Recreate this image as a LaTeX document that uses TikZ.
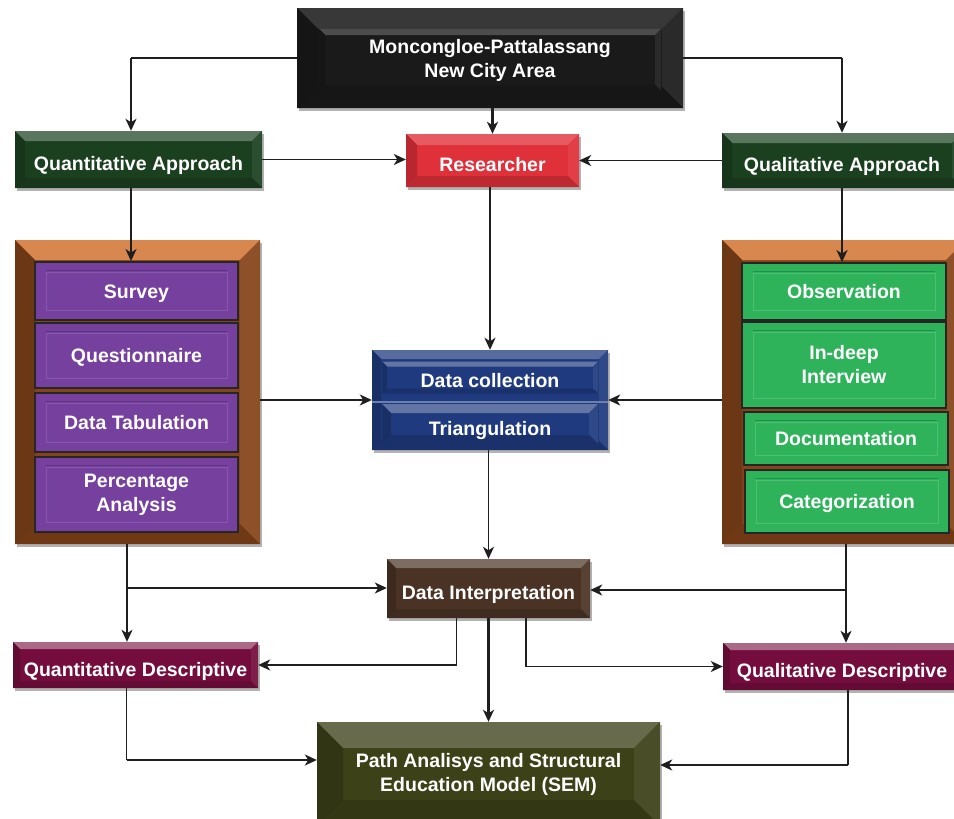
\documentclass[tikz,border=0pt]{standalone}
\usepackage{fontspec}
\setmainfont{Liberation Sans}
\usetikzlibrary{arrows.meta,shadows,calc}
\definecolor{cblack}{HTML}{1A1A1A}
\definecolor{cgreen}{HTML}{1B4020}
\definecolor{cred}{HTML}{E0303A}
\definecolor{cbrown}{HTML}{844319}
\definecolor{corange}{HTML}{D8884E}
\definecolor{cpurple}{HTML}{76409E}
\definecolor{clgreen}{HTML}{2EB35B}
\definecolor{cblue}{HTML}{1F3A7E}
\definecolor{cwood}{HTML}{4A3324}
\definecolor{cmaroon}{HTML}{740D3D}
\definecolor{colive}{HTML}{3D4118}
\tikzset{
  bev/.style n args={3}{fill=#1, draw=none, path picture={
    \path (path picture bounding box.north west) coordinate (ppA)
          (path picture bounding box.north east) coordinate (ppB)
          (path picture bounding box.south east) coordinate (ppC)
          (path picture bounding box.south west) coordinate (ppD);
    \path (ppA) ++(#2,#2) coordinate (ppa)
          (ppB) ++(-#2,#2) coordinate (ppb)
          (ppC) ++(-#2,-#2) coordinate (ppc)
          (ppD) ++(#2,-#2) coordinate (ppd);
    \fill[#3] (ppA) -- (ppB) -- (ppb) -- (ppa) -- cycle;
    \fill[#1!93!white] (ppB) -- (ppC) -- (ppc) -- (ppb) -- cycle;
    \fill[#1!85!black] (ppC) -- (ppD) -- (ppd) -- (ppc) -- cycle;
    \fill[#1!82!black] (ppD) -- (ppA) -- (ppa) -- (ppd) -- cycle;
  }},
  item/.style 2 args={fill=#1, draw=black!85, line width=1.8pt, path picture={
    \draw[#2, line width=0.9pt]
      ([shift={(11,10)}]path picture bounding box.north west) rectangle
      ([shift={(-11,-10)}]path picture bounding box.south east);
    \draw[#1!80!black, line width=1.2pt]
      ([shift={(11,8.8)}]path picture bounding box.north west) --
      ([shift={(-11,8.8)}]path picture bounding box.north east);
  }},
  lbl/.style={text=white, font=\fontsize{19.5}{24}\selectfont\bfseries,
    align=center, inner sep=0pt},
  low/.style={text height=26pt, text depth=4pt},
  mid/.style={text height=18pt, text depth=4pt},
  shd/.style={drop shadow={shadow xshift=2pt, shadow yshift=-3pt,
    opacity=.3, fill=black}},
  arr/.style={-{Stealth[length=12pt,width=11pt,inset=3.5pt]},
    line width=2.1pt, draw=black!88},
  arrthin/.style={arr, line width=1.3pt},
  lnthin/.style={line width=1.3pt, draw=black!88}
}
\begin{document}
\begin{tikzpicture}[x=1pt,y=-1pt]
\useasboundingbox (0,0) rectangle (954,819);
\fill[white] (0,0) rectangle (954,819);

% top
\node[shd, bev={cblack}{21}{black!78!white}, minimum width=386pt, minimum height=100pt] (top) at (490,58) {};
\node[bev={cblack}{6}{black!70!white}, minimum width=342pt, minimum height=62pt, lbl] (topin) at (490,60)
  {Moncongloe-Pattalassang\\New City Area};

% approaches and researcher
\node[shd, bev={cgreen}{10}{cgreen!72!white}, minimum width=247pt, minimum height=57pt, lbl, low] (qa) at (138.5,159.5) {Quantitative Approach};
\node[shd, bev={cred}{11}{cred!80!white}, minimum width=173pt, minimum height=53pt, lbl, low] (res) at (492.5,160.5) {Researcher};
\node[shd, bev={cgreen}{10}{cgreen!72!white}, minimum width=240pt, minimum height=55pt, lbl, low] (qua) at (842,160.5) {Qualitative Approach};

% frames
\node[shd, bev={cbrown}{20}{corange}, minimum width=245pt, minimum height=304pt] (lf) at (137.5,392) {};
\node[shd, bev={cbrown}{20}{corange}, minimum width=244pt, minimum height=304pt] (rf) at (844,392) {};

% purple items
\node[item={cpurple}{cpurple!88!white}, minimum width=203pt, minimum height=58pt, lbl, mid] (sv) at (136.5,291) {Survey};
\node[item={cpurple}{cpurple!88!white}, minimum width=203pt, minimum height=65pt, lbl, mid] (qn) at (136.5,355.5) {Questionnaire};
\node[item={cpurple}{cpurple!88!white}, minimum width=203pt, minimum height=59pt, lbl, mid] (dt) at (136.5,422.5) {Data Tabulation};
\node[item={cpurple}{cpurple!88!white}, minimum width=203pt, minimum height=75pt, lbl] (pa) at (136.5,494.5) {Percentage\\Analysis};

% green items
\node[item={clgreen}{clgreen!85!white}, minimum width=204pt, minimum height=57pt, lbl, mid] (ob) at (844,291.5) {Observation};
\node[item={clgreen}{clgreen!85!white}, minimum width=204pt, minimum height=86pt, lbl] (iv) at (844,365) {In-deep\\Interview};
\node[item={clgreen}{clgreen!85!white}, minimum width=204pt, minimum height=53pt, lbl, mid] (dm) at (846,438.5) {Documentation};
\node[item={clgreen}{clgreen!85!white}, minimum width=204pt, minimum height=63pt, lbl, mid] (ct) at (847,501.5) {Categorization};

% data collection
\node[shd, bev={cblue}{9}{cblue!75!white}, minimum width=236pt, minimum height=100pt] (dc) at (490,400) {};
\node[bev={cblue}{5}{cblue!70!white}, minimum width=216pt, minimum height=32pt, lbl, text height=23pt, text depth=4pt] (dc1) at (490,377.5) {Data collection};
\node[bev={cblue}{9}{cblue!70!white}, minimum width=216pt, minimum height=40pt, lbl, text height=27pt, text depth=4pt] (dc2) at (490,424) {Triangulation};
\draw[cblue!65!white, line width=1.2pt] (dc.west |- 0,402) -- (dc.east |- 0,402);

% interpretation
\node[shd, bev={cwood}{9}{cwood!72!white}, minimum width=203pt, minimum height=59pt, lbl, low] (di) at (488.5,588.5) {Data Interpretation};

% descriptives
\node[shd, bev={cmaroon}{7}{cmaroon!62!white}, minimum width=245pt, minimum height=46pt, lbl, low] (qd) at (135.5,665) {Quantitative Descriptive};
\node[shd, bev={cmaroon}{7}{cmaroon!62!white}, minimum width=238pt, minimum height=47pt, lbl, low] (ql) at (842,666.5) {Qualitative Descriptive};

% SEM
\node[shd, bev={colive}{26}{colive!78!white}, minimum width=343pt, minimum height=104pt, lbl] (sem) at (488.5,774) {Path Analisys and Structural\\Education Model (SEM)};

% connectors
\coordinate (cTL) at ([xshift=-7.5pt]qa.north |- top.west);
\draw[lnthin] (top.west) -- (cTL);
\draw[arr] (cTL) -- ([xshift=-7.5pt]qa.north);
\coordinate (cTR) at (qua.north |- top.east);
\draw[lnthin] (top.east) -- (cTR);
\draw[arr] (cTR) -- (qua.north);
\draw[arr] (res.north |- top.south) -- (res.north);
\draw[arr, line width=1.6pt] (qa.east) -- (qa.east -| res.west);
\draw[arr, line width=1.6pt] (qua.west) -- (qua.west -| res.east);
\draw[arr] ([xshift=-7.5pt]qa.south) -- ([xshift=-7.5pt]qa.south |- sv.north);
\draw[arr] (qua.south) -- (qua.south |- ob.north);
\draw[arr] (dc.north |- res.south) -- (dc.north);
\draw[arr] (lf.east |- dc.west) -- (dc.west);
\draw[arr] (rf.west |- dc.east) -- (dc.east);
\draw[arrthin] (di.north |- dc.south) -- (di.north);

\coordinate (jL) at (127,588);
\coordinate (jR) at (846,590);
\draw[arrthin] (jL |- lf.south) -- (jL |- qd.north);
\draw[arr] (jL) -- (jL -| di.west);
\draw[arrthin] (jR |- rf.south) -- (jR |- ql.north);
\draw[arr] (jR) -- (jR -| di.east);

\coordinate (dL) at ([xshift=-32pt]di.south);
\draw[lnthin] (dL) -- (dL |- qd.east);
\draw[arr] (dL |- qd.east) -- (qd.east);
\coordinate (dR) at ([xshift=37.5pt]di.south);
\draw[arrthin] (dR) |- (ql.west);
\draw[arr] (di.south) -- (sem.north);

\coordinate (sL) at ([yshift=14pt]sem.west);
\coordinate (qL) at ([xshift=-9pt]qd.south);
\draw[lnthin] (qL) -- (qL |- sL);
\draw[arr] (qL |- sL) -- (sL);
\coordinate (sR) at ([yshift=9pt]sem.east);
\coordinate (qR) at ([xshift=6pt]ql.south);
\draw[lnthin] (qR) -- (qR |- sR);
\draw[arr] (qR |- sR) -- (sR);
\end{tikzpicture}
\end{document}
